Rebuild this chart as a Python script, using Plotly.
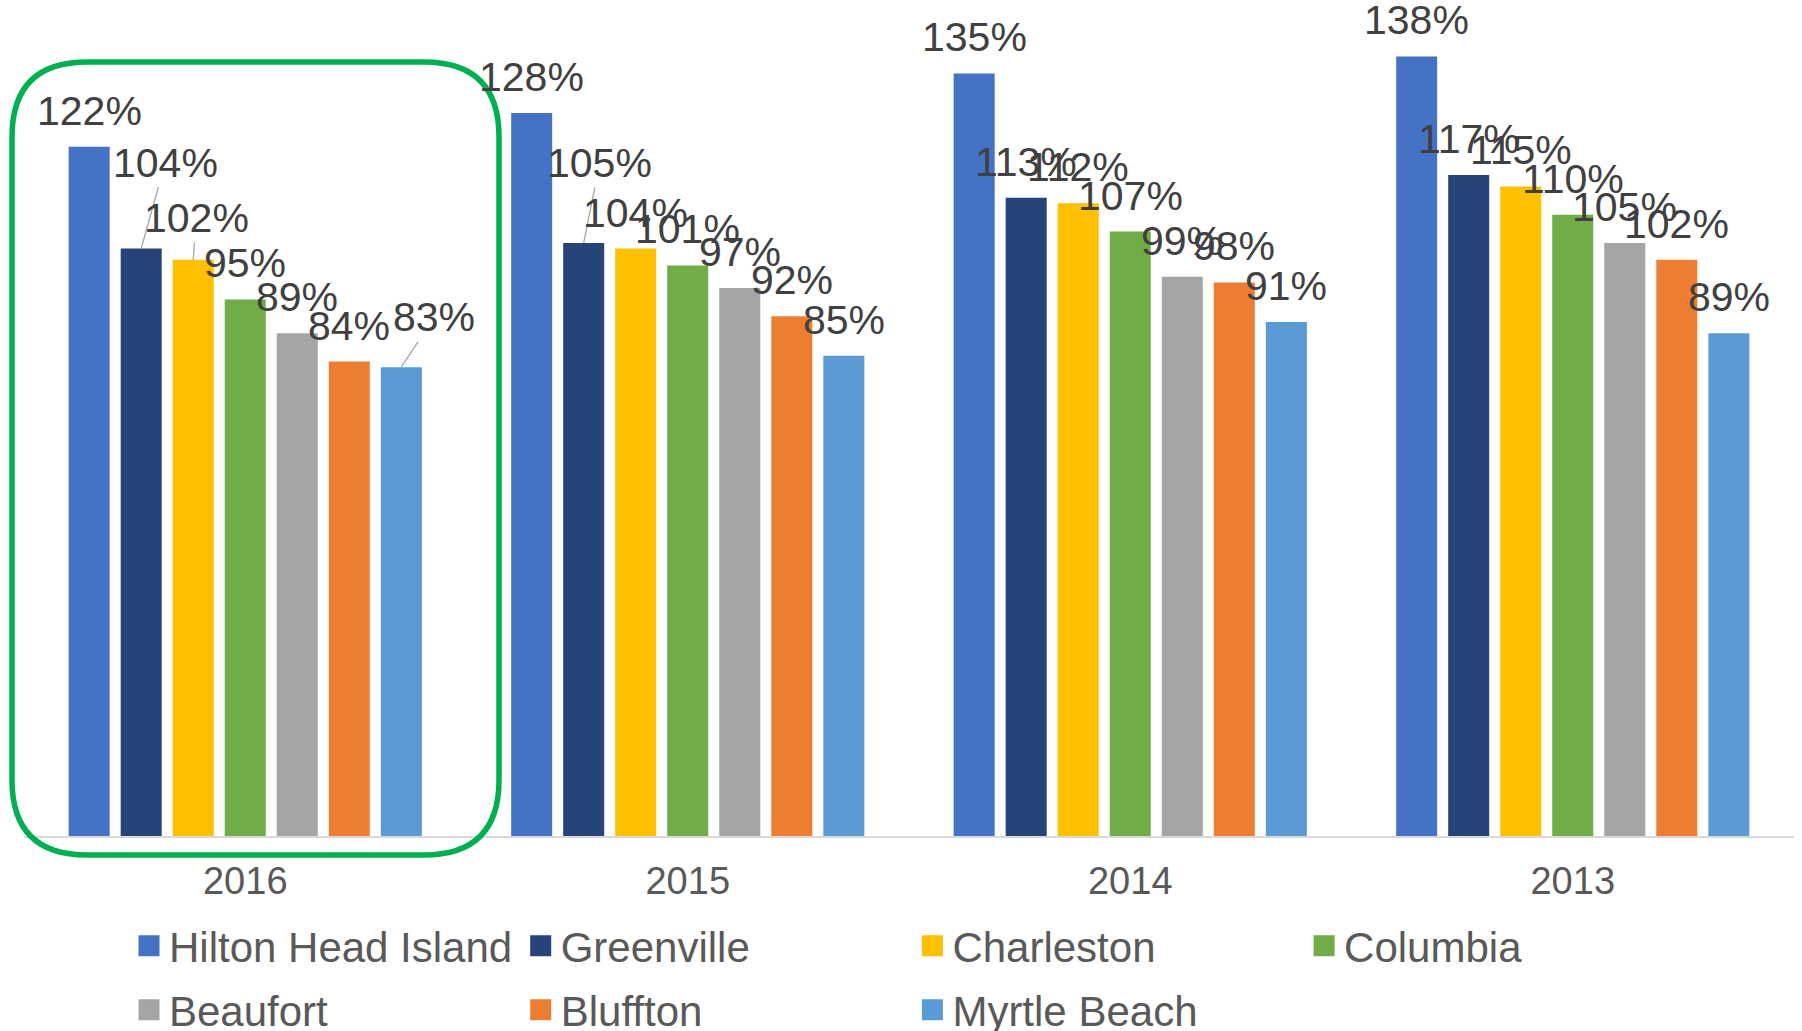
import plotly.graph_objects as go

# ---------------- data ----------------
years = ["2016", "2015", "2014", "2013"]
cities = ["Hilton Head Island", "Greenville", "Charleston", "Columbia",
          "Beaufort", "Bluffton", "Myrtle Beach"]
hilton_head = [122, 128, 135, 138]
greenville = [104, 105, 113, 117]
charleston = [102, 104, 112, 115]
columbia = [95, 101, 107, 110]
beaufort = [89, 97, 99, 105]
bluffton = [84, 92, 98, 102]
myrtle_beach = [83, 85, 91, 89]
series = [hilton_head, greenville, charleston, columbia, beaufort, bluffton, myrtle_beach]

# ---------------- style ----------------
colors = ["#4472C4", "#264478", "#FFC000", "#70AD47", "#A5A5A5", "#ED7D31", "#5B9BD5"]
FONT = "Liberation Sans, Arial, sans-serif"
W, H = 1802, 1031
ML, MR, MT, MB = 24, 8, 0, 195
PW, PH = W - ML - MR, H - MT - MB
YMAX = 148.0
BARGAP, BARGROUPGAP = 0.177, 0.2115
PITCH = PW / len(years) * (1 - BARGAP) / len(cities)

# label offsets (pixels) of data labels relative to the bar top
DEFAULT_OFF = (0, -36)
special_off = {
    ("Greenville", "2016"): (24, -86),
    ("Charleston", "2016"): (3, -42),
    ("Myrtle Beach", "2016"): (33, -50),
    ("Greenville", "2015"): (16, -80),
}

fig = go.Figure()
for i, (city, vals) in enumerate(zip(cities, series)):
    fig.add_trace(go.Bar(
        x=years, y=vals, name=city, legendgroup=city, showlegend=False,
        marker=dict(color=colors[i], line=dict(width=0)),
        hoverinfo="x+y+name",
    ))
    # legend proxy (bigger square symbol)
    fig.add_trace(go.Scatter(
        x=[years[0]], y=[None], mode="markers", name=city, legendgroup=city,
        legend="legend" if i < 4 else "legend2", hoverinfo="skip",
        marker=dict(symbol="square", size=16, color=colors[i],
                    line=dict(width=5, color=colors[i])),
    ))

annotations = []
for i, (city, vals) in enumerate(zip(cities, series)):
    for j, (yr, v) in enumerate(zip(years, vals)):
        dx, dy = special_off.get((city, yr), DEFAULT_OFF)
        leader = (city, yr) in special_off
        annotations.append(dict(
            x=j, y=v, xref="x", yref="y",
            xshift=(i - (len(cities) - 1) / 2) * PITCH,
            text=f"{v}%", showarrow=True, arrowhead=0,
            arrowwidth=1.3,
            arrowcolor="#A6A6A6" if leader else "rgba(0,0,0,0)",
            ax=dx, ay=dy, axref="pixel", ayref="pixel",
            font=dict(family=FONT, size=41, color="#404040"),
        ))

# green rounded highlight rectangle around 2016 (pixel geometry -> paper)
def px2x(px):
    return (px - ML) / PW

def px2y(py):
    return (MT + PH - py) / PH

bx0, bx1, by0, by1, rad = 12, 499, 62, 855, 75
rx, ry = rad / PW, rad / PH
X0, X1, Y0, Y1 = px2x(bx0), px2x(bx1), px2y(by1), px2y(by0)
path = (f"M {X0+rx},{Y1} L {X1-rx},{Y1} Q {X1},{Y1} {X1},{Y1-ry} "
        f"L {X1},{Y0+ry} Q {X1},{Y0} {X1-rx},{Y0} "
        f"L {X0+rx},{Y0} Q {X0},{Y0} {X0},{Y0+ry} "
        f"L {X0},{Y1-ry} Q {X0},{Y1} {X0+rx},{Y1} Z")

legend_common = dict(
    orientation="h", entrywidth=391.7 - 45, entrywidthmode="pixels",
    x=px2x(129), xanchor="left", yanchor="middle",
    font=dict(family=FONT, size=42, color="#595959"),
    bgcolor="rgba(0,0,0,0)", borderwidth=0,
)

fig.update_layout(
    width=W, height=H,
    margin=dict(l=ML, r=MR, t=MT, b=MB, autoexpand=False),
    paper_bgcolor="white", plot_bgcolor="white",
    barmode="group", bargap=BARGAP, bargroupgap=BARGROUPGAP,
    font=dict(family=FONT, color="#595959"),
    xaxis=dict(type="category", categoryorder="array", categoryarray=years,
               range=[-0.5, len(years) - 0.5], autorange=False,
               showline=True, linecolor="#D9D9D9", linewidth=2,
               ticks="", showgrid=False, zeroline=False, automargin=False,
               tickfont=dict(family=FONT, size=38, color="#595959"),
               ticklabelstandoff=10),
    yaxis=dict(visible=False, range=[0, YMAX], autorange=False,
               showgrid=False, zeroline=False),
    legend=dict(legend_common, y=px2y(946)),
    legend2=dict(legend_common, y=px2y(1010)),
    annotations=annotations,
    shapes=[dict(type="path", path=path, xref="paper", yref="paper",
                 line=dict(color="#00B050", width=5.5), layer="above")],
    showlegend=True,
)

fig.write_html("out.html")
